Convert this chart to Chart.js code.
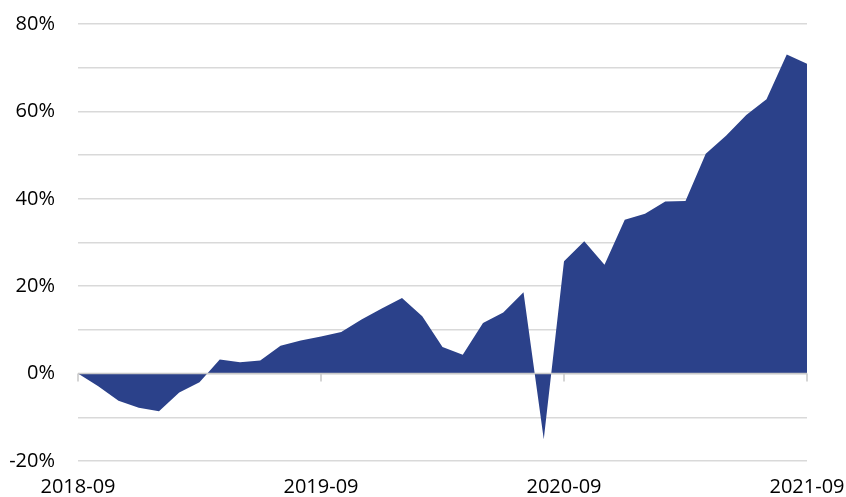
<!DOCTYPE html>
<html>
<head>
<meta charset="utf-8">
<script src="https://cdn.jsdelivr.net/npm/chart.js@4/dist/chart.umd.min.js"></script>
<style>
    body { margin: 0; background: #fff; }
    #wrap { width: 846px; height: 497px; }
</style>
</head>
<body>
<div id="wrap"><canvas id="chart" width="846" height="497"></canvas></div>
<script>
// monthly, 2018-09 .. 2021-09
var months = [];
for (var y = 2018; y <= 2021; y++) {
    for (var m = 1; m <= 12; m++) {
        if ((y === 2018 && m < 9) || (y === 2021 && m > 9)) continue;
        months.push(y + "-" + (m < 10 ? "0" + m : m));
    }
}
var tickLabels = ["2018-09", "2019-09", "2020-09", "2021-09"];
var values = [
    0, -2.9, -6.2, -7.8, -8.6, -4.3, -2.0, 3.2, 2.6, 3.0, 6.4, 7.6,
    8.5, 9.5, 12.4, 14.9, 17.3, 13.1, 6.1, 4.3, 11.6, 14.0, 18.6, -15.0,
    25.7, 30.3, 24.9, 35.2, 36.6, 39.4, 39.5, 50.3, 54.4, 59.2, 62.8, 73.0,
    70.9
];

var fillColor = "#2b418a";
var tickFont = { family: "Open Sans", size: 20 };

// zero line with small year ticks, drawn over the area
var zeroAxis = {
    id: "zeroAxis",
    afterDatasetsDraw: function(chart) {
        var ctx = chart.ctx, xs = chart.scales.x, ys = chart.scales.y;
        var y0 = ys.getPixelForValue(0);
        ctx.save();
        ctx.strokeStyle = "#c8c8c8";
        ctx.lineWidth = 1.5;
        ctx.beginPath();
        ctx.moveTo(chart.chartArea.left, y0);
        ctx.lineTo(chart.chartArea.right, y0);
        months.forEach(function(lbl, i) {
            if (tickLabels.indexOf(lbl) < 0) return;
            var x = xs.getPixelForValue(i);
            ctx.moveTo(x, y0);
            ctx.lineTo(x, y0 + 8);
        });
        ctx.stroke();
        ctx.restore();
    }
};

new Chart(document.getElementById("chart"), {
    type: "line",
    data: {
        labels: months,
        datasets: [{
            data: values,
            fill: "origin",
            backgroundColor: fillColor,
            borderColor: fillColor,
            borderWidth: 0,
            pointRadius: 0,
            tension: 0
        }]
    },
    options: {
        responsive: false,
        animation: false,
        layout: { padding: { left: 0, top: 24, right: 39, bottom: 0 } },
        plugins: { legend: { display: false }, tooltip: { enabled: false } },
        scales: {
            x: {
                offset: false,
                grid: { display: false },
                border: { display: false },
                afterFit: function(s) {
                    s.height = 36;
                    s.paddingLeft = 0;
                    s.paddingRight = 0;
                },
                ticks: {
                    autoSkip: false,
                    maxRotation: 0,
                    padding: 6,
                    color: "#000",
                    font: tickFont,
                    callback: function(v, i) {
                        var l = months[i];
                        return tickLabels.indexOf(l) >= 0 ? l : "";
                    }
                }
            },
            y: {
                min: -20,
                max: 80,
                border: { display: false },
                afterFit: function(s) {
                    s.width = 78;
                    s.paddingTop = 0;
                    s.paddingBottom = 0;
                },
                grid: { color: "#d9d9d9", lineWidth: 1.5, drawTicks: false },
                ticks: {
                    stepSize: 10,
                    padding: 23,
                    color: "#000",
                    font: tickFont,
                    callback: function(v) {
                        return v % 20 === 0 ? v + "%" : "";
                    }
                }
            }
        }
    },
    plugins: [zeroAxis]
});
</script>
</body>
</html>
